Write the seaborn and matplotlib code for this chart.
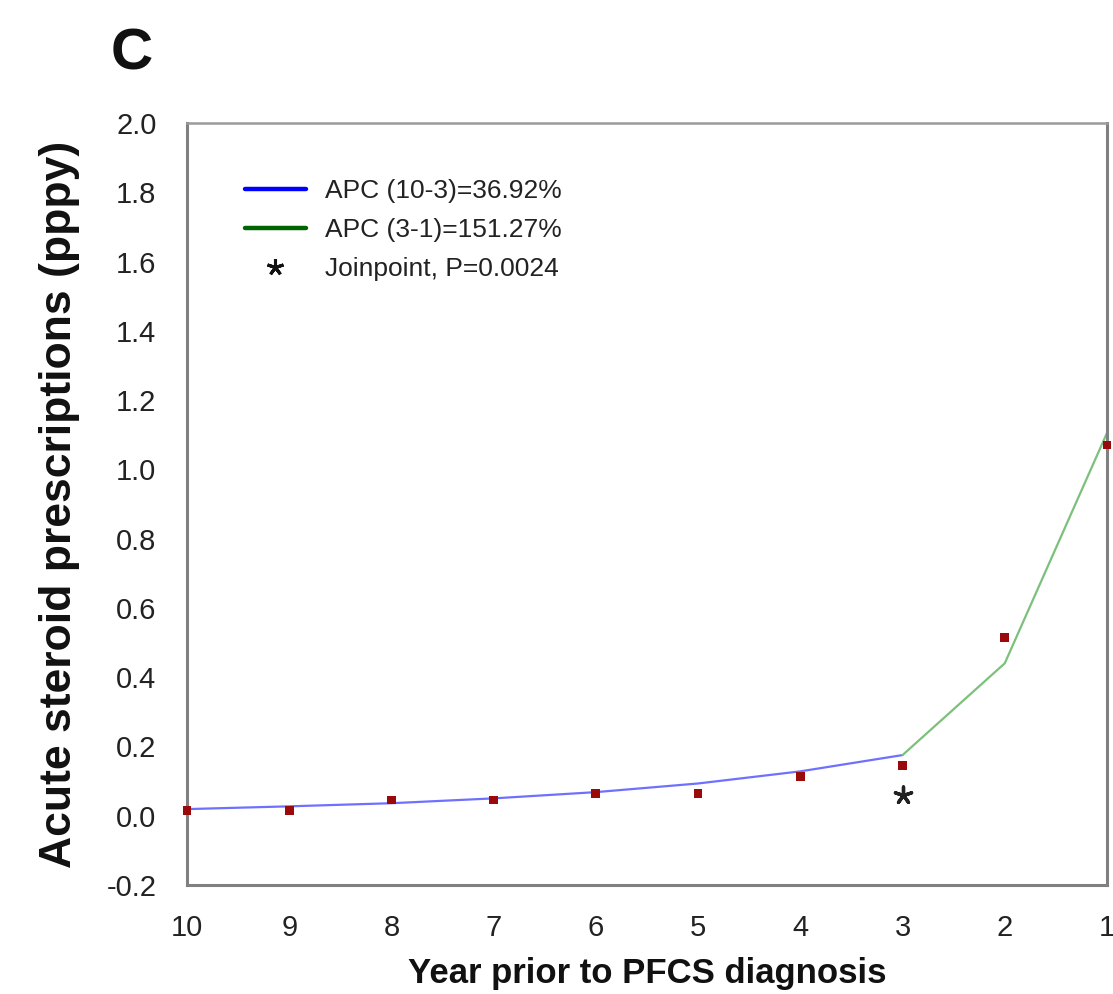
import matplotlib
matplotlib.use("Agg")
import matplotlib.pyplot as plt
import seaborn as sns
import pandas as pd
from matplotlib.lines import Line2D

years = [10, 9, 8, 7, 6, 5, 4, 3, 2, 1]
observed = [0.015, 0.015, 0.045, 0.045, 0.065, 0.065, 0.113, 0.145, 0.515, 1.07]
fit_years_1 = [10, 9, 8, 7, 6, 5, 4, 3]
fit_values_1 = [0.019, 0.027, 0.036, 0.050, 0.068, 0.093, 0.128, 0.175]
fit_years_2 = [3, 2, 1]
fit_values_2 = [0.175, 0.44, 1.105]
joinpoint_year = [3]
joinpoint_y = [0.06]
legend_labels = ["APC (10-3)=36.92%", "APC (3-1)=151.27%", "Joinpoint, P=0.0024"]
yticks = [-0.2, 0.0, 0.2, 0.4, 0.6, 0.8, 1.0, 1.2, 1.4, 1.6, 1.8, 2.0]

sns.set_theme(style="white")
plt.rcParams['font.family'] = ['Liberation Sans', 'DejaVu Sans']

fig = plt.figure(figsize=(11.13, 9.94), dpi=100)
ax = fig.add_axes([0.168, 0.1097, 0.8266, 0.7666])

df_obs = pd.DataFrame({"year": years, "val": observed})
df1 = pd.DataFrame({"year": fit_years_1, "val": fit_values_1})
df2 = pd.DataFrame({"year": fit_years_2, "val": fit_values_2})

sns.lineplot(data=df1, x="year", y="val", ax=ax, color="#7070ff", lw=1.6, sort=False)
sns.lineplot(data=df2, x="year", y="val", ax=ax, color="#7cc07c", lw=1.6, sort=False)
sns.scatterplot(data=df_obs, x="year", y="val", ax=ax, color="#9b0a0a", marker="s",
                s=40, edgecolor="none", zorder=5, clip_on=False)
ax.scatter(joinpoint_year, joinpoint_y, marker=(5, 2, 0), s=150, color="#222222", lw=2.4, zorder=6)

ax.set_xlim(10, 1)
ax.set_ylim(-0.2, 2.0)
ax.set_xticks(years)
ax.set_xticklabels([str(y) for y in years])
ax.set_yticks(yticks)
ax.set_yticklabels([f"{t:.1f}" for t in yticks])
ax.tick_params(axis="both", length=0, labelsize=21, colors="#222222")
ax.tick_params(axis="y", pad=22)
ax.tick_params(axis="x", pad=21)

for side, sp in ax.spines.items():
    sp.set_color("#808080")
    sp.set_linewidth(2.2)
ax.spines["top"].set_color("#9a9a9a")
ax.spines["top"].set_linewidth(1.8)

ax.set_xlabel("Year prior to PFCS diagnosis", fontsize=25, fontweight="bold", labelpad=11, color="#111111")
ax.set_ylabel("Acute steroid prescriptions (pppy)", fontsize=32, fontweight="bold", labelpad=19, color="#111111")

handles = [
    Line2D([0], [0], color="#0000ff", lw=3.2),
    Line2D([0], [0], color="#006400", lw=3.2),
    Line2D([0], [0], color="#111111", lw=0, marker=(5, 2, 0), markersize=12, markeredgewidth=2.2),
]
ax.legend(handles, legend_labels, loc="upper left", bbox_to_anchor=(0.063, 0.926),
          frameon=False, fontsize=19, handlelength=2.3, handletextpad=0.75, labelspacing=0.56,
          borderpad=0, borderaxespad=0, labelcolor="#222222")

fig.text(0.099, 0.93, "C", fontsize=42, fontweight="bold", color="#111111")

fig.savefig("out.png", dpi=100)
